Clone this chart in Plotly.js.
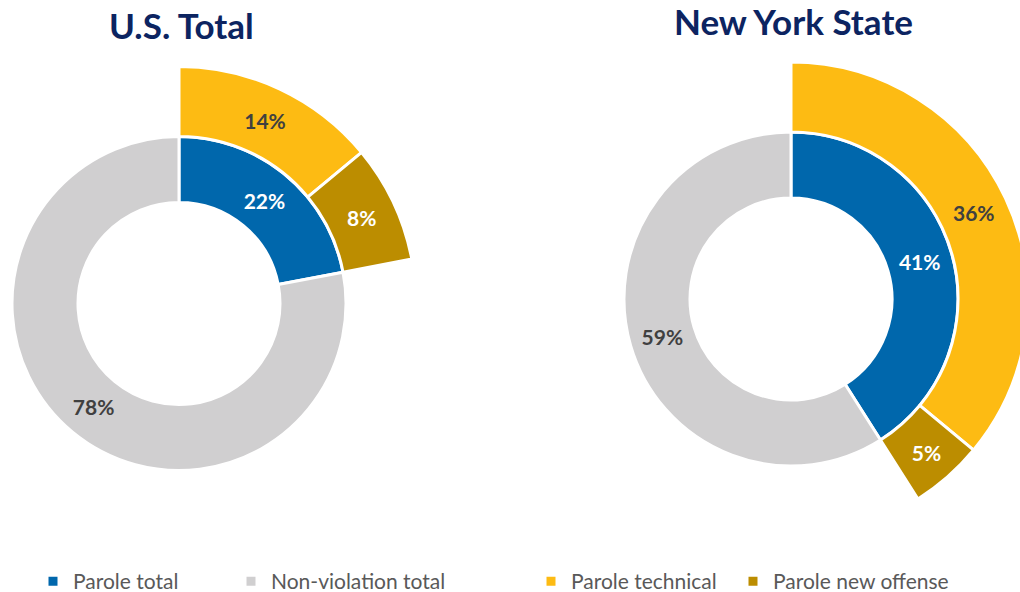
<!DOCTYPE html>
<html>
<head>
<meta charset="utf-8">
<script src="https://cdn.plot.ly/plotly-3.0.1.min.js"></script>
<style>
  html, body { margin: 0; padding: 0; width: 1020px; height: 592px; overflow: hidden; background: #ffffff; }
  #chart { position: absolute; left: -60px; top: 0; width: 1120px; height: 592px; }
</style>
</head>
<body>
<div id="chart"></div>
<script>
// ---- data ----
const innerLabels = ['Parole total', 'Non-violation total'];
const outerLabels = ['Parole technical', 'Parole new offense'];
const chartTitles = ['U.S. Total', 'New York State'];
const usInner = [22, 78];
const usOuter = [14, 8];
const nyInner = [41, 59];
const nyOuter = [36, 5];

// ---- styling ----
const innerColors = ['#0067AC', '#D0CFD0'];
const outerColors = ['#FDBB13', '#BC8D00', 'rgba(0,0,0,0)'];
const innerTextColors = ['#FFFFFF', '#404040'];
const outerTextColors = ['#404040', '#FFFFFF', '#404040'];
const labelFont = 'Lato, "Open Sans", sans-serif';

const W = 1120, H = 592, OFF = 60; // div is offset 60px to the left of the page
const px = x => (x + OFF) / W;
const py = y => 1 - y / H;

function dom(cx, cy, r) {
  return { x: [px(cx - r), px(cx + r)], y: [py(cy + r), py(cy - r)] };
}

function innerTrace(vals, cx, cy) {
  return {
    type: 'pie', labels: innerLabels, values: vals, sort: false,
    direction: 'clockwise', rotation: 0, hole: 101 / 167,
    domain: dom(cx, cy, 167),
    marker: { colors: innerColors, line: { color: '#FFFFFF', width: 3 } },
    text: vals.map(v => v + '%'), textinfo: 'text', textposition: 'inside',
    insidetextorientation: 'horizontal',
    insidetextfont: { family: labelFont, size: 21, weight: 'bold', color: innerTextColors },
    hoverinfo: 'skip', legend: 'legend'
  };
}

function outerTrace(vals, cx, cy) {
  const rest = 100 - vals.reduce((a, b) => a + b, 0);
  return {
    type: 'pie', labels: outerLabels.concat([' ']), values: vals.concat([rest]), sort: false,
    direction: 'clockwise', rotation: 0, hole: 167 / 237,
    domain: dom(cx, cy, 237),
    marker: { colors: outerColors, line: { color: ['#FFFFFF', '#FFFFFF', 'rgba(0,0,0,0)'], width: [3, 3, 0] } },
    text: vals.map(v => v + '%').concat(['']), textinfo: 'text', textposition: 'inside',
    insidetextorientation: 'horizontal',
    insidetextfont: { family: labelFont, size: 21, weight: 'bold', color: outerTextColors },
    hoverinfo: 'skip', legend: 'legend2'
  };
}

// invisible legend spacer so the first legend's last entry is not clipped
const legendSpacer = {
  type: 'pie', labels: ['  '], values: [1], sort: false,
  domain: { x: [0, 0.0005], y: [0, 0.0005] },
  marker: { colors: ['rgba(0,0,0,0)'], line: { color: 'rgba(0,0,0,0)', width: 0 } },
  textinfo: 'none', hoverinfo: 'skip', legend: 'legend'
};

const data = [
  innerTrace(usInner, 179, 303.5),
  innerTrace(nyInner, 791, 299),
  legendSpacer,
  outerTrace(usOuter, 179, 303.5),
  outerTrace(nyOuter, 791, 299)
];

const titleFont = { family: labelFont, size: 35, weight: 'bold', color: '#0C2461' };
const legendFont = { family: labelFont, size: 21, color: '#595959' };

const layout = {
  width: W, height: H,
  margin: { l: 0, r: 0, t: 0, b: 0, autoexpand: false },
  paper_bgcolor: '#FFFFFF',
  showlegend: true,
  legend: {
    orientation: 'h', x: px(33), xanchor: 'left', y: py(561), yanchor: 'top',
    entrywidth: 153, font: legendFont, bgcolor: 'rgba(0,0,0,0)', traceorder: 'normal'
  },
  legend2: {
    orientation: 'h', x: px(531), xanchor: 'left', y: py(561), yanchor: 'top',
    entrywidth: 157, font: legendFont, bgcolor: 'rgba(0,0,0,0)', traceorder: 'normal'
  },
  annotations: [
    { text: chartTitles[0], x: px(181), y: py(25), xref: 'paper', yref: 'paper',
      xanchor: 'center', yanchor: 'middle', showarrow: false, font: titleFont, borderpad: 0 },
    { text: chartTitles[1], x: px(793), y: py(21), xref: 'paper', yref: 'paper',
      xanchor: 'center', yanchor: 'middle', showarrow: false, font: titleFont, borderpad: 0 }
  ]
};

Plotly.newPlot('chart', data, layout, { displayModeBar: false, staticPlot: true });
</script>
</body>
</html>
